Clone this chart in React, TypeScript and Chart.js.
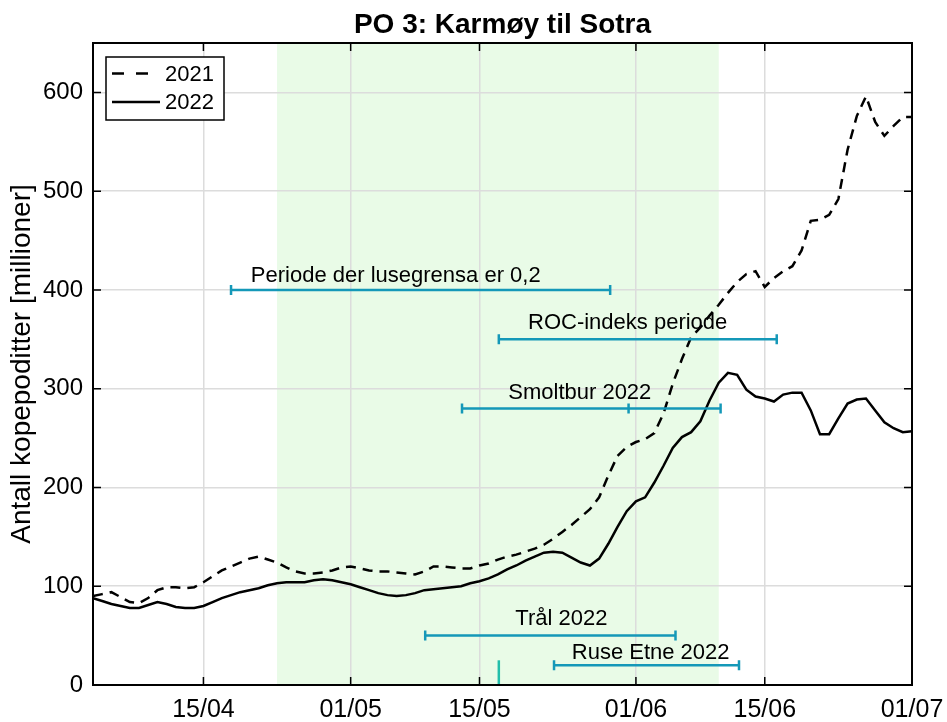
import React, { useEffect, useRef } from 'react';
import { Chart, registerables } from 'chart.js';

Chart.register(...registerables);

const FONT = "'Liberation Sans', Arial, Helvetica, sans-serif";

// Day-of-year of first value (03/04)
const startDay = 93;

const values2021 = [
  90, 92, 94, 89, 84, 83, 88, 96, 99, 99,
  98, 99, 104, 110, 116, 120, 124, 128, 130, 127,
  124, 119, 115, 113, 113, 114, 116, 119, 120, 118,
  116, 115, 115, 114, 113, 112, 115, 120, 120, 119,
  118, 118, 121, 123, 127, 130, 132, 135, 138, 142,
  148, 155, 162, 170, 178, 190, 212, 232, 241, 246,
  249, 255, 275, 305, 330, 352, 362, 374, 385, 397,
  408, 416, 419, 403, 412, 419, 424, 440, 470, 471,
  476, 492, 542, 576, 596, 570, 556, 566, 575, 575,
];

const values2022 = [
  88, 85, 82, 80, 78, 78, 81, 84, 82, 79,
  78, 78, 80, 84, 88, 91, 94, 96, 98, 101,
  103, 104, 104, 104, 106, 107, 106, 104, 102, 99,
  96, 93, 91, 90, 91, 93, 96, 97, 98, 99,
  100, 103, 105, 108, 112, 117, 121, 126, 130, 134,
  135, 134, 129, 124, 121, 128, 143, 160, 176, 186,
  190, 205, 222, 240, 251, 256, 267, 288, 306, 316,
  314, 299, 292, 290, 287, 294, 296, 296, 278, 254,
  254, 270, 285, 289, 290, 278, 266, 260, 256, 257,
];

const tickDays = [105, 121, 135, 152, 166, 182];
const tickLabels = ['15/04', '01/05', '15/05', '01/06', '15/06', '01/07'];
const yTickValues = [0, 100, 200, 300, 400, 500, 600];

const xMin = 93;
const xMax = 182;
const yMin = 0;
const yMax = 650;

const shadeStart = 113;
const shadeEnd = 161;

const intervalNames = ['Periode der lusegrensa er 0,2', 'ROC-indeks periode', 'Smoltbur 2022', 'Trål 2022', 'Ruse Etne 2022'];
const intervalStart = [108, 137.1, 133.1, 129.1, 143.1];
const intervalEnd = [149.2, 167.3, 161.2, 156.3, 163.2];
const intervalLevel = [400, 350, 280, 50, 20];
const intervalMid = [null, null, 151.2, null, null];
const intervalLabelDay = [125.9, 151.1, 145.9, 143.9, 153.6];
const intervalLabelValue = [408, 360, 290, 61, 26];

const markerDay = 137.1;
const markerTop = 25;

const seriesNames = ['2021', '2022'];

const toPoints = (vals: number[]) => vals.map((v, i) => ({ x: startDay + i, y: v }));

const decor = {
  id: 'decor',
  beforeDraw(chart: any) {
    const { ctx, chartArea: a, scales } = chart;
    const x = scales.x;
    ctx.save();
    ctx.fillStyle = '#ffffff';
    ctx.fillRect(0, 0, chart.width, chart.height);
    const x0 = x.getPixelForValue(shadeStart);
    const x1 = x.getPixelForValue(shadeEnd);
    ctx.fillStyle = 'rgb(233,251,231)';
    ctx.fillRect(x0, a.top, x1 - x0, a.bottom - a.top);
    ctx.restore();
  },
  afterDatasetsDraw(chart: any) {
    const { ctx, scales } = chart;
    const x = scales.x;
    const y = scales.y;
    ctx.save();
    ctx.strokeStyle = 'rgb(20,152,184)';
    ctx.lineWidth = 2.5;
    ctx.lineCap = 'butt';
    for (let i = 0; i < intervalNames.length; i++) {
      const xs = x.getPixelForValue(intervalStart[i]);
      const xe = x.getPixelForValue(intervalEnd[i]);
      const py = y.getPixelForValue(intervalLevel[i]);
      ctx.beginPath();
      ctx.moveTo(xs, py);
      ctx.lineTo(xe, py);
      ctx.moveTo(xs, py - 5);
      ctx.lineTo(xs, py + 5);
      ctx.moveTo(xe, py - 5);
      ctx.lineTo(xe, py + 5);
      const m = intervalMid[i];
      if (m !== null) {
        const xm = x.getPixelForValue(m);
        ctx.moveTo(xm, py - 5);
        ctx.lineTo(xm, py + 5);
      }
      ctx.stroke();
    }
    // marker
    ctx.strokeStyle = 'rgb(34,190,170)';
    ctx.lineWidth = 2.5;
    const mx = x.getPixelForValue(markerDay);
    ctx.beginPath();
    ctx.moveTo(mx, y.getPixelForValue(0));
    ctx.lineTo(mx, y.getPixelForValue(markerTop));
    ctx.stroke();

    // labels
    ctx.fillStyle = '#000';
    ctx.font = `22px ${FONT}`;
    ctx.textAlign = 'center';
    ctx.textBaseline = 'alphabetic';
    for (let i = 0; i < intervalNames.length; i++) {
      ctx.fillText(intervalNames[i], x.getPixelForValue(intervalLabelDay[i]), y.getPixelForValue(intervalLabelValue[i]));
    }
    ctx.restore();
  },
  afterDraw(chart: any) {
    const { ctx, chartArea: a, scales } = chart;
    const x = scales.x;
    const y = scales.y;
    ctx.save();
    // box
    ctx.strokeStyle = '#000';
    ctx.lineWidth = 2;
    ctx.strokeRect(a.left, a.top, a.right - a.left, a.bottom - a.top);
    // inward ticks
    ctx.lineWidth = 1.5;
    const tl = 8;
    ctx.beginPath();
    for (const d of tickDays) {
      const px = x.getPixelForValue(d);
      ctx.moveTo(px, a.bottom);
      ctx.lineTo(px, a.bottom - tl);
      ctx.moveTo(px, a.top);
      ctx.lineTo(px, a.top + tl);
    }
    for (const v of yTickValues) {
      const py = y.getPixelForValue(v);
      ctx.moveTo(a.left, py);
      ctx.lineTo(a.left + tl, py);
      ctx.moveTo(a.right, py);
      ctx.lineTo(a.right - tl, py);
    }
    ctx.stroke();

    // legend
    const lx = 106, ly = 57, lw = 118, lh = 63;
    ctx.fillStyle = '#fff';
    ctx.fillRect(lx, ly, lw, lh);
    ctx.lineWidth = 1.5;
    ctx.strokeStyle = '#000';
    ctx.strokeRect(lx, ly, lw, lh);
    const rows = [73.5, 102];
    ctx.lineWidth = 2.5;
    ctx.setLineDash([12, 12]);
    ctx.beginPath();
    ctx.moveTo(112, rows[0]);
    ctx.lineTo(160, rows[0]);
    ctx.stroke();
    ctx.setLineDash([]);
    ctx.beginPath();
    ctx.moveTo(112, rows[1]);
    ctx.lineTo(160, rows[1]);
    ctx.stroke();
    ctx.fillStyle = '#000';
    ctx.font = `22px ${FONT}`;
    ctx.textAlign = 'left';
    ctx.textBaseline = 'middle';
    ctx.fillText(seriesNames[0], 165, rows[0] + 1);
    ctx.fillText(seriesNames[1], 165, rows[1] + 1);

    // title
    ctx.font = `bold 28px ${FONT}`;
    ctx.textAlign = 'center';
    ctx.textBaseline = 'alphabetic';
    ctx.fillText('PO 3: Karmøy til Sotra', (a.left + a.right) / 2, 33);

    // y label
    ctx.translate(22, (a.top + a.bottom) / 2);
    ctx.rotate(-Math.PI / 2);
    ctx.font = `28px ${FONT}`;
    ctx.textBaseline = 'middle';
    ctx.textAlign = 'center';
    ctx.fillText('Antall kopepoditter [millioner]', 0, 0);
    ctx.restore();
  },
};

export default function App() {
  const ref = useRef<HTMLCanvasElement>(null);
  useEffect(() => {
    document.body.style.margin = '0';
    const chart = new Chart(ref.current as HTMLCanvasElement, {
      type: 'line',
      data: {
        datasets: [
          {
            label: seriesNames[0],
            data: toPoints(values2021),
            borderColor: '#000',
            borderWidth: 2.5,
            borderDash: [10, 7],
            pointRadius: 0,
            tension: 0,
            fill: false,
          },
          {
            label: seriesNames[1],
            data: toPoints(values2022),
            borderColor: '#000',
            borderWidth: 2.5,
            pointRadius: 0,
            tension: 0,
            fill: false,
          },
        ],
      },
      options: {
        responsive: false,
        animation: false,
        devicePixelRatio: 1,
        layout: { padding: { left: 0, right: 35, top: 43, bottom: 0 } },
        plugins: {
          legend: { display: false },
          title: { display: false },
          tooltip: { enabled: false },
        },
        scales: {
          x: {
            type: 'linear',
            min: xMin,
            max: xMax,
            afterBuildTicks: (s: any) => {
              s.ticks = tickDays.map((v) => ({ value: v }));
            },
            afterFit: (s: any) => {
              s.height = 37;
              s.paddingLeft = 0;
              s.paddingRight = 0;
            },
            ticks: {
              autoSkip: false,
              maxRotation: 0,
              padding: 10,
              color: '#000',
              font: { size: 25, family: FONT },
              callback: (v: any) => {
                const i = tickDays.indexOf(Number(v));
                return i >= 0 ? tickLabels[i] : '';
              },
            },
            grid: { color: '#dcdcdc', lineWidth: 1.5, drawTicks: false },
            border: { display: false },
          },
          y: {
            type: 'linear',
            min: yMin,
            max: yMax,
            afterBuildTicks: (s: any) => {
              s.ticks = yTickValues.map((v) => ({ value: v }));
            },
            afterFit: (s: any) => {
              s.width = 93;
              s.paddingTop = 0;
              s.paddingBottom = 0;
            },
            ticks: {
              padding: 10,
              color: '#000',
              font: { size: 24, family: FONT },
            },
            grid: { color: '#dcdcdc', lineWidth: 1.5, drawTicks: false },
            border: { display: false },
          },
        },
      } as any,
      plugins: [decor],
    });
    return () => chart.destroy();
  }, []);
  return <canvas ref={ref} width={947} height={722} style={{ display: 'block' }} />;
}
